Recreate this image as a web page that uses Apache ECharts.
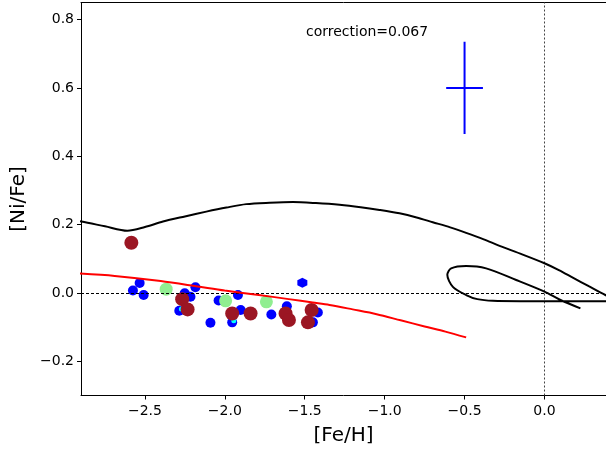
<!DOCTYPE html>
<html>
<head>
<meta charset="utf-8">
<script src="https://cdn.jsdelivr.net/npm/echarts@6/dist/echarts.min.js"></script>
<style>
  html, body { margin: 0; padding: 0; background: #fff; }
  #chart { width: 606px; height: 452px; }
</style>
</head>
<body>
<div id="chart"></div>
<script>
// Tick positions
const xTicks = [-2.5, -2.0, -1.5, -1.0, -0.5, 0.0];
const yTicks = [-0.2, 0.0, 0.2, 0.4, 0.6, 0.8];

// Blue stars (circles)
const blueFeH  = [-2.533, -2.575, -2.508, -2.251, -2.215, -2.184, -2.285, -2.090, -2.039, -1.918, -1.901, -1.954, -1.709, -1.612, -1.418, -1.449];
const blueNiFe = [ 0.029,  0.007, -0.006, -0.001, -0.011,  0.017, -0.052, -0.087, -0.022, -0.006, -0.050, -0.086, -0.063, -0.039, -0.057, -0.086];

// Blue hexagon star
const hexFeH  = [-1.515];
const hexNiFe = [0.030];

// Cyan stars (small)
const cyanFeH  = [-2.272, -1.944];
const cyanNiFe = [-0.047, -0.081];

// Light green stars
const greenFeH  = [-2.367, -1.995, -1.740];
const greenNiFe = [ 0.011, -0.023, -0.026];

// Dark red stars
const redFeH  = [-2.585, -2.267, -2.233, -1.954, -1.839, -1.620, -1.599, -1.457, -1.480];
const redNiFe = [ 0.147, -0.018, -0.048, -0.060, -0.060, -0.060, -0.079, -0.050, -0.086];

// Chemical evolution model track (black)
const modelFeH  = [-2.95, -2.897, -2.75, -2.61, -2.50, -2.387, -2.25, -2.116, -1.99, -1.866, -1.72, -1.574, -1.43, -1.282, -1.15, -1.032, -0.907, -0.80, -0.699, -0.59, -0.490, -0.38, -0.281, -0.14, 0.0, 0.09, 0.177, 0.28, 0.381, 0.45, 0.48, 0.45, 0.381, 0.20, 0.0, -0.15, -0.323, -0.42, -0.490, -0.573, -0.608, -0.584, -0.490, -0.365, -0.177, 0.0, 0.094, 0.225];
const modelNiFe = [ 0.212,  0.209,  0.195,  0.182,  0.193,  0.209,  0.224,  0.238,  0.250,  0.260,  0.264,  0.266,  0.263,  0.258,  0.251,  0.243,  0.233,  0.221,  0.207,  0.192,  0.176,  0.157,  0.138,  0.113, 0.087, 0.067, 0.045, 0.019, -0.006, -0.018, -0.024, -0.025, -0.024, -0.024, -0.024, -0.024, -0.023, -0.018, -0.006, 0.018, 0.053, 0.072, 0.079, 0.072, 0.038, 0.004, -0.019, -0.045];

// Fitted trend (red)
const fitFeH  = [-2.908, -2.689, -2.401, -2.158, -2.001, -1.80, -1.60, -1.45, -1.345, -1.20, -1.05, -0.90, -0.75, -0.62, -0.49];
const fitNiFe = [ 0.057,  0.050,  0.035,  0.018,  0.007, -0.005, -0.018, -0.028, -0.035, -0.048, -0.062, -0.080, -0.098, -0.113, -0.130];

// Typical error bar
const errFeH = -0.5, errNiFe = 0.6, errDFeH = 0.115, errDNiFe = 0.135;

const annotation = 'correction=0.067';

const zip = (a, b) => a.map((v, i) => [v, b[i]]);
const fmt = v => v.toFixed(1).replace('-', '\u2212');
const hexPath = 'path://M0,-1L0.866,-0.5L0.866,0.5L0,1L-0.866,0.5L-0.866,-0.5Z';
const FONT = 'DejaVu Sans';

const chart = echarts.init(document.getElementById('chart'), null, { renderer: 'canvas' });

chart.setOption({
  animation: false,
  backgroundColor: '#fff',
  grid: { left: 81, top: 2.5, width: 525, height: 393, show: false },
  xAxis: [{
    type: 'value', min: -2.9, max: 0.385,
    name: '[Fe/H]', nameLocation: 'middle', nameGap: 30,
    nameTextStyle: { fontFamily: FONT, fontSize: 20, color: '#000' },
    axisLine: { show: true, onZero: false, lineStyle: { color: '#000', width: 1 } },
    axisTick: { show: true, inside: false, length: 4, customValues: xTicks, lineStyle: { color: '#000', width: 1 } },
    axisLabel: { customValues: xTicks, formatter: fmt, fontFamily: FONT, fontSize: 14, color: '#000', margin: 9 },
    splitLine: { show: false }
  }, {
    // top frame line
    type: 'value', position: 'top', min: -2.9, max: 0.385,
    axisLine: { show: true, onZero: false, lineStyle: { color: '#000', width: 1 } },
    axisTick: { show: false }, axisLabel: { show: false }, splitLine: { show: false }
  }],
  yAxis: {
    type: 'value', min: -0.3, max: 0.85,
    name: '[Ni/Fe]', nameLocation: 'middle', nameGap: 52, nameRotate: 90,
    nameTextStyle: { fontFamily: FONT, fontSize: 20, color: '#000' },
    axisLine: { show: true, onZero: false, lineStyle: { color: '#000', width: 1 } },
    axisTick: { show: true, inside: false, length: 4, customValues: yTicks, lineStyle: { color: '#000', width: 1 } },
    axisLabel: { customValues: yTicks, formatter: fmt, fontFamily: FONT, fontSize: 14, color: '#000', margin: 7 },
    splitLine: { show: false }
  },
  graphic: [{
    type: 'text', left: 306, top: 25,
    style: { text: annotation, fontFamily: FONT, fontSize: 14, fill: '#000' }
  }],
  series: [
    {
      // reference lines at solar values
      type: 'line', data: [], z: 1,
      markLine: {
        silent: true, symbol: 'none', label: { show: false },
        data: [
          { yAxis: 0, lineStyle: { color: '#000', width: 1, type: [3, 2] } },
          { xAxis: 0, lineStyle: { color: '#444', width: 1, type: [2, 2] } }
        ]
      }
    },
    {
      type: 'scatter', data: zip(blueFeH, blueNiFe), symbol: 'circle', symbolSize: 10,
      itemStyle: { color: '#0000ff', opacity: 1 }, z: 2
    },
    {
      type: 'scatter', data: zip(hexFeH, hexNiFe), symbol: hexPath, symbolSize: 10,
      itemStyle: { color: '#0000ff', opacity: 1 }, z: 2
    },
    {
      type: 'scatter', data: zip(cyanFeH, cyanNiFe), symbol: 'circle', symbolSize: 5,
      itemStyle: { color: '#00ffff', opacity: 1 }, z: 3
    },
    {
      type: 'scatter', data: zip(greenFeH, greenNiFe), symbol: 'circle', symbolSize: 13,
      itemStyle: { color: '#90ee90', opacity: 1 }, z: 3
    },
    {
      type: 'scatter', data: zip(redFeH, redNiFe), symbol: 'circle', symbolSize: 14,
      itemStyle: { color: '#9b1623', opacity: 1 }, z: 4
    },
    {
      type: 'line', data: zip(fitFeH, fitNiFe), symbol: 'none', smooth: 0.3, clip: true,
      lineStyle: { color: '#ff0000', width: 2 }, z: 5
    },
    {
      type: 'line', data: zip(modelFeH, modelNiFe), symbol: 'none', smooth: 0.3, clip: true,
      lineStyle: { color: '#000', width: 2 }, z: 5
    },
    {
      type: 'line', data: [[errFeH, errNiFe - errDNiFe], [errFeH, errNiFe + errDNiFe]], symbol: 'none',
      lineStyle: { color: '#0000ff', width: 2 }, z: 5
    },
    {
      type: 'line', data: [[errFeH - errDFeH, errNiFe], [errFeH + errDFeH, errNiFe]], symbol: 'none',
      lineStyle: { color: '#0000ff', width: 2 }, z: 5
    }
  ]
});
</script>
</body>
</html>
